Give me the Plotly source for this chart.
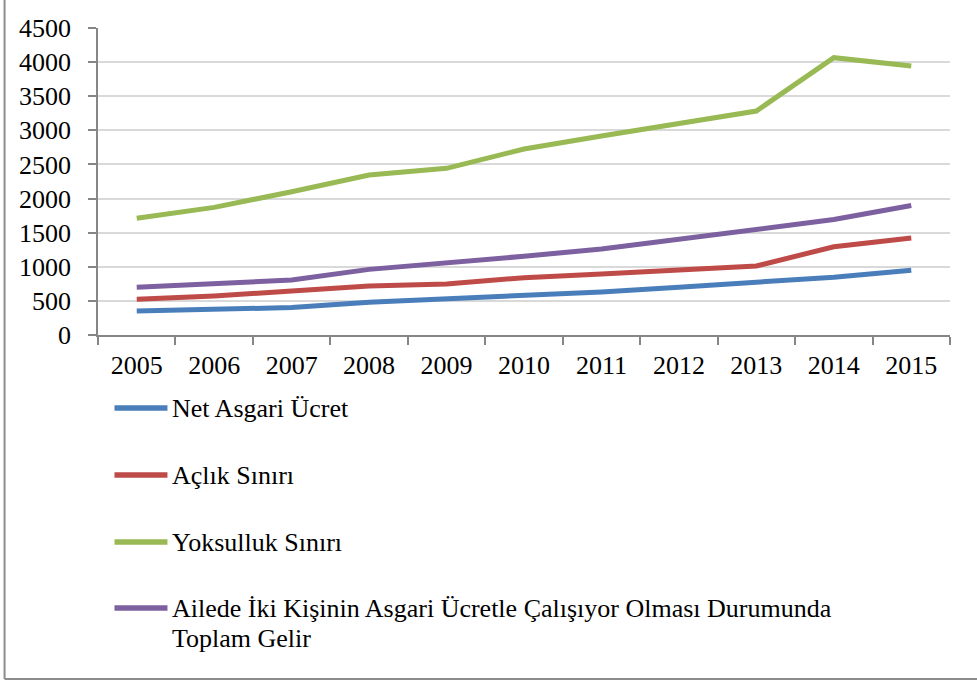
import plotly.graph_objects as go

years = ["2005", "2006", "2007", "2008", "2009", "2010", "2011", "2012", "2013", "2014", "2015"]
net_asgari = [350, 380, 403, 481, 527, 577, 630, 701, 773, 846, 949]
aclik = [523, 572, 645, 718, 748, 840, 894, 953, 1011, 1294, 1422]
yoksulluk = [1710, 1871, 2100, 2345, 2443, 2726, 2917, 3103, 3283, 4065, 3943]
iki_kisi = [700, 760, 806, 962, 1054, 1154, 1260, 1402, 1546, 1692, 1898]

names = ["Net Asgari Ücret", "Açlık Sınırı", "Yoksulluk Sınırı",
         "Ailede İki Kişinin Asgari Ücretle Çalışıyor Olması Durumunda|Toplam Gelir"]
colors = ["#4A7EBB", "#BE4B48", "#98B954", "#7D60A0"]
series = [net_asgari, aclik, yoksulluk, iki_kisi]
y_ticks = [0, 500, 1000, 1500, 2000, 2500, 3000, 3500, 4000, 4500]

FONT = "Liberation Serif"
W, H = 977, 681
L, R, T, B = 97.5, 27, 28, 346

fig = go.Figure()
for vals, nm, col in zip(series, names, colors):
    fig.add_trace(go.Scatter(x=years, y=vals, mode="lines", name=nm.replace("|", " "),
                             line=dict(color=col, width=5), showlegend=False))

# manual legend (paper coords)
pw, ph = W - L - R, H - T - B
def px(x):
    return (x - L) / pw
def py(y):
    return (H - B - y) / ph

legend_y = [408, 475, 542, 608]
shapes = []
annotations = []
for nm, col, ly in zip(names, colors, legend_y):
    shapes.append(dict(type="line", xref="paper", yref="paper",
                       x0=px(114), x1=px(167), y0=py(ly), y1=py(ly),
                       line=dict(color=col, width=5.5)))
    parts = nm.split("|")
    for i, part in enumerate(parts):
        annotations.append(dict(xref="paper", yref="paper", x=px(170), y=py(ly + 30 * i),
                                xanchor="left", yanchor="middle", showarrow=False,
                                text=part, font=dict(family=FONT, size=26, color="#000000")))

# outer frame (left and bottom)
shapes.append(dict(type="line", xref="paper", yref="paper", x0=px(4), x1=px(4),
                   y0=py(0), y1=py(679), line=dict(color="#8C8C8C", width=2)))
shapes.append(dict(type="line", xref="paper", yref="paper", x0=px(4), x1=px(977),
                   y0=py(679), y1=py(679), line=dict(color="#8C8C8C", width=2)))

fig.update_layout(
    width=W, height=H,
    margin=dict(l=L, r=R, t=T, b=B),
    paper_bgcolor="white", plot_bgcolor="white",
    font=dict(family=FONT, size=26, color="#000000"),
    shapes=shapes, annotations=annotations,
    showlegend=False,
)
fig.update_xaxes(type="category", range=[-0.5, 10.5], tickson="boundaries",
                 ticks="outside", ticklen=8, tickwidth=1.5, tickcolor="#868686",
                 showline=True, linecolor="#868686", linewidth=1.5,
                 showgrid=False, zeroline=False, ticklabelstandoff=6,
                 tickfont=dict(family=FONT, size=26, color="#000000"))
fig.update_yaxes(range=[0, 4500], tickvals=y_ticks, ticktext=[str(v) for v in y_ticks],
                 ticks="outside", ticklen=8, tickwidth=1.5, tickcolor="#868686",
                 showline=True, linecolor="#868686", linewidth=1.5,
                 showgrid=True, gridcolor="#D9D9D9", gridwidth=1.5, zeroline=False,
                 ticklabelstandoff=12,
                 tickfont=dict(family=FONT, size=26, color="#000000"))

fig.write_html("out.html", config={"displayModeBar": False},
               post_script="document.body.style.margin='0';document.body.style.overflow='hidden';")
